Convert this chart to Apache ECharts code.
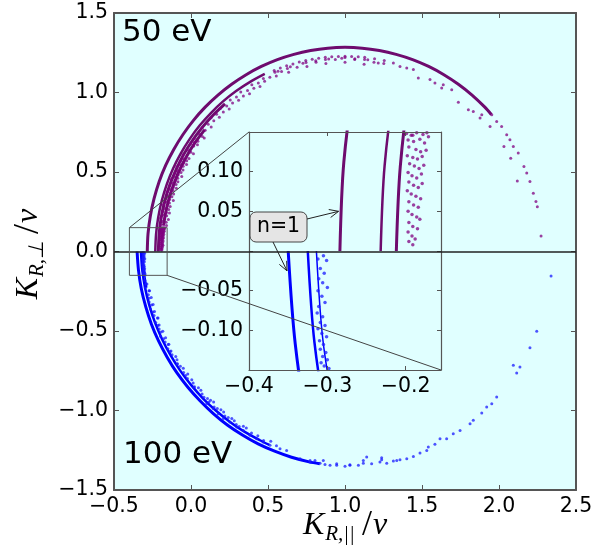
<!DOCTYPE html>
<html><head><meta charset="utf-8">
<script src="https://cdn.jsdelivr.net/npm/echarts@6/dist/echarts.min.js"></script>
<style>html,body{margin:0;padding:0;background:#fff}#c{width:612px;height:557px}</style>
</head><body><div id="c"></div>
<script>
// ---------------- tick values / labels ----------------
const mainXRange = [-0.5, 2.5], mainXStep = 0.5;
const mainYRange = [-1.5, 1.5], mainYStep = 0.5;
const mainXLabels = [-0.5, 0.0, 0.5, 1.0, 1.5, 2.0, 2.5];
const mainYLabels = [-1.5, -1.0, -0.5, 0.0, 0.5, 1.0, 1.5];
const insetXRange = [-0.4, -0.155], insetXStep = 0.1;
const insetYRange = [-0.15, 0.15], insetYStep = 0.05;
const insetXLabels = [-0.4, -0.3, -0.2];
const insetYLabels = [-0.10, -0.05, 0.05, 0.10];

// ---------------- 50 eV (purple) ----------------
const purpleN1 = [[-0.284,0.000],[-0.279,0.112],[-0.264,0.223],[-0.240,0.332],[-0.207,0.439],[-0.164,0.543],[-0.112,0.642],[-0.052,0.736],[0.016,0.825],[0.092,0.908],[0.175,0.984],[0.264,1.052],[0.358,1.112],[0.457,1.164],[0.561,1.207],[0.668,1.240],[0.777,1.264],[0.888,1.279],[1.000,1.284],[1.112,1.279],[1.223,1.264],[1.332,1.240],[1.439,1.207],[1.543,1.164],[1.642,1.112],[1.736,1.052],[1.825,0.984],[1.908,0.908],[1.950,0.862]];
const purpleL2 = [[-0.232,0.000],[-0.227,0.107],[-0.213,0.214],[-0.190,0.319],[-0.158,0.421],[-0.117,0.521],[-0.067,0.616],[-0.009,0.707],[0.056,0.792],[0.129,0.871],[0.208,0.944],[0.293,1.009],[0.384,1.067],[0.479,1.117]];
const purpleL3 = [[-0.212,0.000],[-0.207,0.106],[-0.194,0.210],[-0.171,0.314],[-0.139,0.415],[-0.098,0.512],[-0.050,0.606],[0.007,0.695],[0.072,0.779],[0.143,0.857],[0.221,0.928]];
const purpleL4 = [[-0.178,0.166],[-0.164,0.247],[-0.144,0.328],[-0.118,0.407],[-0.079,0.503],[-0.031,0.595],[0.025,0.683],[0.088,0.765]];
const purpleInsetDots = [[-0.199,0.148],[-0.193,0.146],[-0.186,0.149],[-0.178,0.147],[-0.173,0.149],[-0.197,0.140],[-0.190,0.138],[-0.182,0.141],[-0.176,0.136],[-0.196,0.131],[-0.187,0.128],[-0.181,0.125],[-0.174,0.127],[-0.198,0.120],[-0.191,0.118],[-0.185,0.116],[-0.179,0.119],[-0.195,0.110],[-0.189,0.107],[-0.183,0.104],[-0.177,0.108],[-0.197,0.099],[-0.192,0.095],[-0.186,0.092],[-0.180,0.097],[-0.196,0.087],[-0.190,0.083],[-0.184,0.080],[-0.179,0.085],[-0.198,0.076],[-0.193,0.072],[-0.187,0.069],[-0.181,0.066],[-0.196,0.062],[-0.190,0.058],[-0.184,0.055],[-0.197,0.050],[-0.192,0.046],[-0.186,0.043],[-0.182,0.040],[-0.196,0.036],[-0.191,0.031],[-0.185,0.028],[-0.197,0.024],[-0.192,0.019],[-0.188,0.015],[-0.196,0.012],[-0.191,0.008]];
const purpleBandDots = [[-0.191,0.146],[-0.171,0.144],[-0.198,0.168],[-0.178,0.166],[-0.159,0.163],[-0.185,0.188],[-0.161,0.184],[-0.197,0.211],[-0.172,0.207],[-0.147,0.202],[-0.183,0.230],[-0.158,0.225],[-0.184,0.252],[-0.159,0.246],[-0.140,0.242],[-0.169,0.270],[-0.145,0.264],[-0.179,0.294],[-0.155,0.288],[-0.135,0.283],[-0.164,0.312],[-0.140,0.305],[-0.163,0.333],[-0.139,0.327],[-0.115,0.320],[-0.148,0.351],[-0.124,0.344],[-0.156,0.375],[-0.132,0.368],[-0.113,0.362],[-0.139,0.392],[-0.116,0.384],[-0.137,0.414],[-0.114,0.405],[-0.095,0.398],[-0.120,0.430],[-0.097,0.421],[-0.127,0.455],[-0.103,0.446],[-0.085,0.438],[-0.109,0.471],[-0.086,0.461],[-0.105,0.492],[-0.083,0.482],[-0.060,0.472],[-0.088,0.507],[-0.065,0.497],[-0.092,0.533],[-0.070,0.522],[-0.052,0.513],[-0.074,0.547],[-0.051,0.536],[-0.068,0.568],[-0.046,0.556],[-0.029,0.547],[-0.050,0.582],[-0.028,0.570],[-0.052,0.608],[-0.031,0.595],[-0.013,0.585],[-0.022,0.639],[-0.001,0.625],[0.016,0.615],[-0.003,0.677],[0.018,0.663],[0.021,0.685],[0.042,0.671],[0.021,0.711],[0.045,0.694],[0.054,0.739],[0.074,0.723],[0.086,0.714],[0.073,0.778],[0.092,0.762],[0.112,0.800],[0.131,0.783],[0.130,0.841],[0.148,0.823],[0.166,0.863],[0.184,0.845],[0.190,0.899],[0.210,0.877],[0.232,0.915],[0.248,0.896],[0.255,0.953],[0.270,0.934],[0.295,0.971],[0.309,0.951],[0.323,1.003],[0.340,0.978],[0.367,1.013],[0.380,0.992],[0.395,1.048],[0.408,1.026],[0.437,1.059],[0.448,1.037],[0.470,1.088],[0.478,1.070],[0.512,1.096],[0.545,1.127],[0.554,1.103],[0.588,1.132],[0.626,1.151],[0.634,1.127],[0.689,1.159],[0.747,1.188],[0.753,1.164],[0.812,1.190],[0.873,1.208],[0.876,1.183],[0.937,1.208],[1.000,1.220],[1.000,1.190],[1.063,1.208],[1.127,1.208],[1.124,1.178],[1.188,1.190],[1.252,1.183]];
const purpleTopDots = [[0.540,1.139],[0.580,1.154],[0.621,1.168],[0.662,1.180],[0.703,1.192],[0.745,1.201],[0.787,1.209],[0.829,1.216],[0.872,1.221],[0.914,1.225],[0.957,1.227],[1.000,1.228],[1.043,1.227],[1.086,1.225],[1.128,1.221],[1.192,1.213],[1.255,1.201],[0.565,1.134],[0.645,1.162],[0.727,1.184],[0.810,1.200],[0.894,1.210],[0.979,1.215],[1.064,1.213],[1.148,1.206]];
const purpleRightDots = [[1.216,1.186],[1.314,1.186],[1.357,1.164],[1.401,1.154],[1.444,1.144],[1.476,1.091],[1.552,1.081],[1.584,1.060],[1.638,1.049],[1.628,1.028],[1.693,1.018],[1.736,0.938],[1.801,0.892],[1.833,0.881],[1.877,0.839],[1.888,0.860],[1.942,0.786],[2.032,0.660],[2.076,0.587],[2.119,0.444],[1.953,0.860],[1.985,0.818],[2.017,0.786],[2.050,0.734],[2.071,0.703],[2.093,0.660],[2.125,0.619],[2.162,0.534],[2.180,0.493],[2.201,0.440],[2.223,0.367],[2.240,0.314],[2.249,0.282],[2.273,0.098]];

// ---------------- 100 eV (blue) ----------------
const blueN1 = [[-0.350,0.000],[-0.341,-0.117],[-0.323,-0.233],[-0.294,-0.347],[-0.257,-0.457],[-0.210,-0.564],[-0.154,-0.666],[-0.091,-0.764],[-0.019,-0.855],[0.060,-0.940],[0.145,-1.019],[0.236,-1.091],[0.334,-1.154],[0.436,-1.210],[0.543,-1.256],[0.653,-1.294],[0.767,-1.323],[0.836,-1.335]];
const blueL2 = [[-0.325,0.000],[-0.3165,-0.115],[-0.298,-0.229],[-0.270,-0.340],[-0.233,-0.449],[-0.187,-0.553],[-0.132,-0.654],[-0.070,-0.749],[0.000,-0.839],[0.077,-0.923],[0.161,-1.000],[0.251,-1.070],[0.346,-1.133],[0.447,-1.187],[0.509,-1.216]];
const blueL3 = [[-0.314,0.000],[-0.3055,-0.114],[-0.287,-0.227]];
const blueInsetDots = [[-0.312,-0.010],[-0.305,-0.006],[-0.301,-0.012],[-0.309,-0.022],[-0.304,-0.028],[-0.311,-0.035],[-0.306,-0.040],[-0.300,-0.046],[-0.312,-0.050],[-0.307,-0.057],[-0.303,-0.065],[-0.311,-0.070],[-0.313,-0.078],[-0.306,-0.083],[-0.309,-0.090],[-0.303,-0.094],[-0.312,-0.098],[-0.307,-0.104],[-0.301,-0.108],[-0.310,-0.113],[-0.305,-0.118],[-0.309,-0.124],[-0.302,-0.128],[-0.306,-0.133],[-0.300,-0.137],[-0.308,-0.141],[-0.304,-0.145],[-0.298,-0.148]];
const blueBandDots = [[-0.300,-0.183],[-0.286,-0.204],[-0.297,-0.229],[-0.273,-0.247],[-0.277,-0.272],[-0.258,-0.290],[-0.272,-0.317],[-0.256,-0.336],[-0.263,-0.362],[-0.237,-0.378],[-0.240,-0.403],[-0.214,-0.418],[-0.229,-0.447],[-0.207,-0.463],[-0.207,-0.488],[-0.194,-0.507],[-0.198,-0.533],[-0.165,-0.543],[-0.168,-0.569],[-0.148,-0.585],[-0.150,-0.612],[-0.130,-0.626],[-0.123,-0.649],[-0.091,-0.681],[-0.090,-0.708],[-0.069,-0.721],[-0.048,-0.761],[-0.021,-0.770],[-0.023,-0.799],[0.014,-0.827],[0.018,-0.854],[0.048,-0.857],[0.072,-0.896],[0.107,-0.924],[0.117,-0.947],[0.147,-0.947],[0.171,-0.988],[0.212,-1.009],[0.242,-1.044],[0.281,-1.065],[0.313,-1.100],[0.359,-1.110],[0.393,-1.142],[0.434,-1.159],[0.471,-1.188],[0.518,-1.194],[0.555,-1.222],[0.102,-0.957],[0.145,-0.988],[0.177,-1.020],[0.210,-1.051],[0.253,-1.072],[0.297,-1.104],[0.340,-1.125],[0.383,-1.156],[0.427,-1.177],[0.469,-1.198],[0.513,-1.219],[0.578,-1.240],[0.621,-1.251],[-0.293,-0.205],[-0.269,-0.247],[-0.273,-0.294],[-0.246,-0.334],[-0.247,-0.381],[-0.218,-0.419],[-0.215,-0.466],[-0.183,-0.502],[-0.178,-0.549],[-0.144,-0.583],[-0.135,-0.629],[-0.099,-0.660],[-0.088,-0.706],[-0.050,-0.735],[-0.035,-0.780],[0.005,-0.806],[0.023,-0.850],[0.064,-0.873],[0.084,-0.916],[0.127,-0.936],[0.150,-0.978],[0.194,-0.995],[0.220,-1.035],[0.265,-1.050],[0.294,-1.088],[0.340,-1.099]];
const blueBottomDots = [[0.708,-1.303],[0.773,-1.314],[0.859,-1.314],[0.946,-1.335],[1.032,-1.345],[1.119,-1.314],[1.238,-1.310],[1.336,-1.314],[0.773,-1.324],[0.805,-1.314],[0.838,-1.331],[0.870,-1.339],[0.903,-1.345],[0.946,-1.345],[1.000,-1.350],[1.032,-1.341],[1.087,-1.345],[1.119,-1.331],[1.141,-1.293],[1.173,-1.335],[1.227,-1.324],[1.238,-1.297],[1.271,-1.331],[1.314,-1.318],[1.357,-1.310],[1.401,-1.303],[1.444,-1.289],[1.487,-1.268],[1.531,-1.251],[1.541,-1.230],[1.584,-1.213],[1.617,-1.177],[1.660,-1.177],[1.703,-1.146],[1.747,-1.125],[1.812,-1.083],[1.833,-1.062],[1.888,-1.016],[1.920,-0.978],[1.953,-0.957],[1.985,-0.915],[2.093,-0.715],[2.115,-0.764],[2.136,-0.726],[2.201,-0.606],[2.245,-0.501],[2.338,-0.154]];

// ---------------- annotation ----------------
const annotationText = 'n=1';
const arrowTargetPurple = [-0.2857, 0.050];
const arrowTargetBlue = [-0.3515, -0.025];
const panelLabels = ['50 eV', '100 eV'];

// ---------------- layout & style ----------------
const MAIN = {left:114, top:13, width:462, height:477};
const INSET = {left:249, top:132, width:192, height:238};
const BG = '#e0ffff';
const FRAME = '#555555';
const PURPLE = '#6e0b6e', PURPLE_DOT = '#800080';
const BLUE = '#0000ff', BLUE_DOT = '#1a1aff';

const chart = echarts.init(document.getElementById('c'), null, {renderer:'canvas', width:612, height:557});

function fmtFactory(list, digits){
  return function(v){
    if (!list.some(t => Math.abs(t - v) < 1e-6)) return '';
    const val = Math.abs(v) < 1e-9 ? 0 : v;
    return val.toFixed(digits).replace('-', '\u2212');
  };
}
function axis(gridIndex, pos, range, step, labels, digits, showLabels, z, tickLen, lw){
  return {type:'value', gridIndex, position:pos, min:range[0], max:range[1], interval:step, z,
    axisLine:{show:true, onZero:false, lineStyle:{color:FRAME, width:lw}},
    axisTick:{show:true, inside:true, length:tickLen, lineStyle:{color:FRAME, width:1}},
    axisLabel:{show:showLabels, margin:6, fontSize:20.5, fontFamily:'DejaVu Sans', color:'#000',
      formatter: fmtFactory(labels, digits), showMinLabel:true, showMaxLabel:true, hideOverlap:false},
    splitLine:{show:false}, minorTick:{show:false}, splitArea:{show:false}};
}
function lineS(data, color, width, xi, yi, z){
  return {type:'line', data, xAxisIndex:xi, yAxisIndex:yi, smooth:0.3, showSymbol:false, symbol:'none',
    lineStyle:{color, width}, z, clip:true, silent:true, animation:false};
}
function dotS(data, color, size, xi, yi, z, op){
  return {type:'scatter', data, xAxisIndex:xi, yAxisIndex:yi, symbol:'circle', symbolSize:size,
    itemStyle:{color, opacity:op}, z, clip:true, silent:true, animation:false};
}
function seriesFor(xi, yi, z, ds){
  return [
    dotS(purpleBandDots.concat(purpleInsetDots, purpleTopDots, purpleRightDots), PURPLE_DOT, ds, xi, yi, z, 0.75),
    dotS(blueBandDots.concat(blueInsetDots, blueBottomDots), BLUE_DOT, ds, xi, yi, z, 0.75),
    lineS(purpleL4, PURPLE, 3, xi, yi, z),
    lineS(purpleL3, PURPLE, 3, xi, yi, z),
    lineS(purpleL2, PURPLE, 2.5, xi, yi, z),
    lineS(purpleN1, PURPLE, 3, xi, yi, z),
    lineS(blueL3, BLUE, 1.5, xi, yi, z),
    lineS(blueL2, BLUE, 2.5, xi, yi, z),
    lineS(blueN1, BLUE, 3, xi, yi, z)
  ];
}

const rectCorners = [[insetXRange[0],insetYRange[0]],[insetXRange[1],insetYRange[0]],[insetXRange[1],insetYRange[1]],[insetXRange[0],insetYRange[1]],[insetXRange[0],insetYRange[0]]];

const option = {
  animation:false,
  grid:[
    Object.assign({show:true, backgroundColor:BG, borderWidth:0, containLabel:false, outerBoundsMode:'none'}, MAIN),
    Object.assign({show:false, containLabel:false, outerBoundsMode:'none'}, INSET)
  ],
  xAxis:[
    axis(0,'bottom',mainXRange,mainXStep,mainXLabels,1,true,0,5,2),
    axis(0,'top',mainXRange,mainXStep,mainXLabels,1,false,0,5,2),
    axis(1,'bottom',insetXRange,insetXStep,insetXLabels,1,true,7,4,1.2),
    axis(1,'top',insetXRange,insetXStep,insetXLabels,1,false,7,4,1.2)
  ],
  yAxis:[
    axis(0,'left',mainYRange,mainYStep,mainYLabels,1,true,0,5,2),
    axis(0,'right',mainYRange,mainYStep,mainYLabels,1,false,0,5,2),
    axis(1,'left',insetYRange,insetYStep,insetYLabels,2,true,7,4,1.2),
    axis(1,'right',insetYRange,insetYStep,insetYLabels,2,false,7,4,1.2)
  ],
  series: seriesFor(0,0,2,3).concat(seriesFor(2,2,6,3.5)).concat([
    {type:'line', data:rectCorners, xAxisIndex:0, yAxisIndex:0, symbol:'none', showSymbol:false,
     lineStyle:{color:'#555', width:1}, z:20, silent:true, animation:false, clip:false,
     markLine:{silent:true, z:20, symbol:['none','none'], label:{show:false}, animation:false,
       lineStyle:{color:'#222', width:1.5, type:'solid'}, emphasis:{disabled:true}, data:[{yAxis:0}]}}
  ])
};
chart.setOption(option);

const P = (g, pt) => chart.convertToPixel({gridIndex:g}, pt);
function rot(u, a){ return [u[0]*Math.cos(a) - u[1]*Math.sin(a), u[0]*Math.sin(a) + u[1]*Math.cos(a)]; }
function arrowEls(from, to){
  const dx = to[0]-from[0], dy = to[1]-from[1], L = Math.hypot(dx,dy), u = [dx/L, dy/L], h = 10, a = 0.42;
  const r1 = rot(u, a), r2 = rot(u, -a);
  const p1 = [to[0]-h*r1[0], to[1]-h*r1[1]], p2 = [to[0]-h*r2[0], to[1]-h*r2[1]];
  return [
    {type:'line', shape:{x1:from[0],y1:from[1],x2:to[0],y2:to[1]}, style:{stroke:'#222',lineWidth:1}, z:30, silent:true},
    {type:'polyline', shape:{points:[p1,to,p2]}, style:{stroke:'#222',lineWidth:1,fill:null}, z:30, silent:true}
  ];
}
const tl0 = P(0,[insetXRange[0],insetYRange[1]]), tl1 = P(1,[insetXRange[0],insetYRange[1]]);
const br0 = P(0,[insetXRange[1],insetYRange[0]]), br1 = P(1,[insetXRange[1],insetYRange[0]]);
const tipP = P(1, arrowTargetPurple), tipB = P(1, arrowTargetBlue);
const box = {x:250, y:212, w:57, h:30};

function txt(x, y, text, font){
  return {type:'text', x, y, z:31, silent:true,
    style:{text, font, fill:'#000', align:'left', textAlign:'left', verticalAlign:'middle', textVerticalAlign:'middle'}};
}
const richTitle = {
  k:{fontStyle:'italic', fontSize:32, fontFamily:'Liberation Serif', fill:'#000'},
  s:{fontStyle:'italic', fontSize:21, fontFamily:'Liberation Serif', fill:'#000', padding:[16,4,0,1]},
  sl:{fontSize:36, fontFamily:'Liberation Serif', fill:'#000', padding:[0,1,0,3]}
};
const graphics = [
  {type:'rect', shape:{x:INSET.left, y:INSET.top, width:INSET.width, height:INSET.height}, style:{fill:BG}, z:5, silent:true},
  {type:'line', shape:{x1:tl0[0],y1:tl0[1],x2:tl1[0],y2:tl1[1]}, style:{stroke:'#444',lineWidth:1}, z:30, silent:true},
  {type:'line', shape:{x1:br0[0],y1:br0[1],x2:br1[0],y2:br1[1]}, style:{stroke:'#444',lineWidth:1}, z:30, silent:true},
  {type:'rect', shape:{x:box.x, y:box.y, width:box.w, height:box.h, r:6}, style:{fill:'#e5e5e5', stroke:'#444', lineWidth:1}, z:30, silent:true},
  {type:'text', x:box.x+box.w/2, y:box.y+box.h/2, z:31, silent:true,
   style:{text:annotationText, font:'20.5px "DejaVu Sans"', fill:'#000', align:'center', textAlign:'center', verticalAlign:'middle', textVerticalAlign:'middle'}},
  ...arrowEls([box.x+box.w, box.y+7], tipP),
  ...arrowEls([box.x+23, box.y+box.h], tipB),
  txt(122, 33, panelLabels[0], '31px "DejaVu Sans"'),
  txt(123, 454.5, panelLabels[1], '31px "DejaVu Sans"'),
  {type:'text', x:345, y:526, z:31, silent:true,
   style:{text:'{k|K}{s|R,||}{sl|/}{k|v}', rich:richTitle, fill:'#000', align:'center', textAlign:'center', verticalAlign:'middle', textVerticalAlign:'middle'}},
  {type:'text', x:29, y:254, rotation:Math.PI/2, z:31, silent:true,
   style:{text:'{k|K}{s|R,\u22a5}{sl|/}{k|v}', rich:richTitle, fill:'#000', align:'center', textAlign:'center', verticalAlign:'middle', textVerticalAlign:'middle'}}
];
chart.setOption({graphic: graphics});
</script>
</body></html>
